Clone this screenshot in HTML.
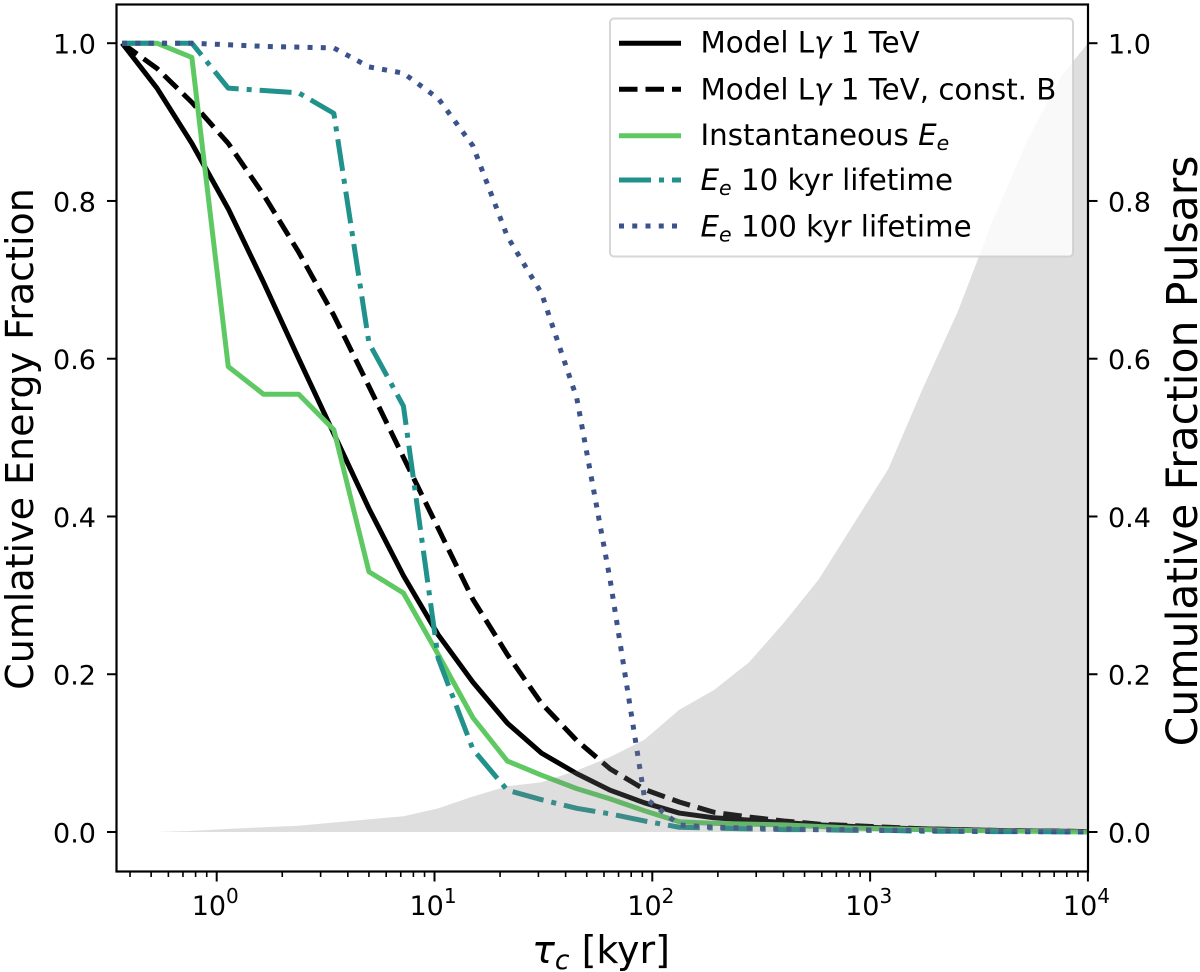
<!DOCTYPE html>
<html lang="en">
<head>
<meta charset="utf-8">
<title>Cumulative energy fraction vs characteristic age</title>
<style>
html,body{margin:0;padding:0;background:#fff;overflow:hidden;}
svg{display:block;font-family:"DejaVu Sans","Liberation Sans",sans-serif;filter:blur(0.35px);}
text{fill:#000;}
</style>
</head>
<body>
<svg id="chart" xmlns="http://www.w3.org/2000/svg" width="1200" height="972" viewBox="0 0 1200 972">
  <rect x="0" y="0" width="1200" height="972" fill="#fff"/>
  <g id="series-layer"></g>
  <g id="fill-layer"></g>
  <rect x="116.5" y="4.5" width="971.5" height="867" fill="none" stroke="#000" stroke-width="2.2"/>
  <g id="tick-layer"></g>

  <text transform="translate(33,439) rotate(-90)" text-anchor="middle" font-size="38">Cumlative Energy Fraction</text>
  <text transform="translate(1197,451) rotate(-90)" text-anchor="middle" font-size="42.5">Cumulative Fraction Pulsars</text>
  <text x="601" y="963" text-anchor="middle" font-size="38"><tspan font-style="italic">τ</tspan><tspan font-style="italic" font-size="26.5" dy="6">c</tspan><tspan dy="-6"> [kyr]</tspan></text>

  <g>
    <rect x="610" y="18.5" width="463" height="238" rx="4" ry="4" fill="#fff" fill-opacity="0.8" stroke="#ccc" stroke-opacity="0.8" stroke-width="2"/>
    <line x1="619" x2="681" y1="43.3" y2="43.3" stroke="#000" stroke-width="5"/>
    <text x="700.5" y="52.7" font-size="29.3">Model L<tspan font-style="italic">γ</tspan> 1 TeV</text>
    <line x1="619" x2="681" y1="89.3" y2="89.3" stroke="#000" stroke-width="5" stroke-dasharray="18.5 8"/>
    <text x="700.5" y="99.3" font-size="29.3">Model L<tspan font-style="italic">γ</tspan> 1 TeV, const. B</text>
    <line x1="619" x2="681" y1="135.7" y2="135.7" stroke="#5ec962" stroke-width="5"/>
    <text x="700.5" y="145" font-size="29.3">Instantaneous <tspan font-style="italic">E</tspan><tspan font-style="italic" font-size="20.5" dy="5">e</tspan></text>
    <line x1="619" x2="681" y1="180" y2="180" stroke="#21918c" stroke-width="5" stroke-dasharray="32 8 5 8"/>
    <text x="700.5" y="190" font-size="29.3"><tspan font-style="italic">E</tspan><tspan font-style="italic" font-size="20.5" dy="5">e</tspan><tspan dy="-5"> 10 kyr lifetime</tspan></text>
    <line x1="619" x2="681" y1="226" y2="226" stroke="#3b528b" stroke-width="5" stroke-dasharray="5 8.25"/>
    <text x="700.5" y="236.7" font-size="29.3"><tspan font-style="italic">E</tspan><tspan font-style="italic" font-size="20.5" dy="5">e</tspan><tspan dy="-5"> 100 kyr lifetime</tspan></text>
  </g>
</svg>
<script>
const tauKyr = [0.368,0.532,0.769,1.13,1.64,2.38,3.45,5,7.2,10.4,15,21.6,31,45,64,92,133,192,278,401,580,838,1211,1750,2529,3654,5280,7630,10000];
const modelValues = [1,0.943,0.873,0.79,0.697,0.6,0.505,0.41,0.325,0.25,0.19,0.138,0.1,0.074,0.053,0.037,0.024,0.018,0.015,0.012,0.009,0.007,0.005,0.004,0.003,0.002,0.0015,0.001,0.0005];
const constBValues = [1,0.968,0.925,0.873,0.808,0.735,0.655,0.565,0.475,0.385,0.295,0.225,0.163,0.116,0.08,0.054,0.038,0.025,0.019,0.014,0.01,0.008,0.006,0.004,0.003,0.002,0.0015,0.001,0.0005];
const instantValues = [1,1,0.982,0.59,0.555,0.555,0.51,0.33,0.303,0.225,0.145,0.09,0.072,0.055,0.042,0.027,0.013,0.011,0.01,0.009,0.007,0.005,0.004,0.003,0.002,0.0015,0.001,0.0005,0];
const tenKyrValues = [1,1,1,0.943,0.94,0.937,0.911,0.62,0.54,0.22,0.105,0.053,0.041,0.03,0.023,0.014,0.006,0.005,0.004,0.003,0.003,0.002,0.002,0.001,0.001,0.0005,0.0005,0.0002,0];
const hundredKyrValues = [1,1,1,0.998,0.996,0.995,0.994,0.97,0.962,0.93,0.87,0.755,0.683,0.55,0.32,0.044,0.009,0.006,0.005,0.004,0.003,0.003,0.002,0.002,0.001,0.001,0.0005,0.0002,0];
const pulsarFraction = [0,0,0.0015,0.004,0.006,0.008,0.012,0.016,0.02,0.03,0.045,0.058,0.063,0.078,0.095,0.117,0.155,0.18,0.215,0.265,0.32,0.39,0.46,0.563,0.66,0.775,0.877,0.96,1];
const yTickValues = [0,0.2,0.4,0.6,0.8,1];
const yTickLabels = ['0.0','0.2','0.4','0.6','0.8','1.0'];
const xTickExponents = [0,1,2,3,4];
const xMinorDecades = [-1,0,1,2,3];
const xMinorFactors = [2,3,4,5,6,7,8,9];

const NS = 'http://www.w3.org/2000/svg';
const X_DECADE0 = 216.7, X_PER_DECADE = 217.8, Y_ZERO = 832, Y_SPAN = 788.8;
const PLOT_LEFT = 116.5, PLOT_RIGHT = 1088, PLOT_BOTTOM = 871.5;

function xScale(v){ return X_DECADE0 + X_PER_DECADE * Math.log10(v); }
function yScale(v){ return Y_ZERO - Y_SPAN * v; }
function linePath(values){
  return values.map(function(v,i){
    return (i ? 'L' : 'M') + xScale(tauKyr[i]).toFixed(2) + ' ' + yScale(v).toFixed(2);
  }).join(' ');
}
function makeEl(tag, attrs, parent){
  const el = document.createElementNS(NS, tag);
  Object.keys(attrs).forEach(function(k){ el.setAttribute(k, attrs[k]); });
  parent.appendChild(el);
  return el;
}

const seriesLayer = document.getElementById('series-layer');
const fillLayer = document.getElementById('fill-layer');
const tickLayer = document.getElementById('tick-layer');

const lineModel = makeEl('path', {d: linePath(modelValues), fill:'none', stroke:'#000', 'stroke-width':5, 'stroke-linejoin':'round'}, seriesLayer);


const lineConstB = makeEl('path', {d: linePath(constBValues), fill:'none', stroke:'#000', 'stroke-width':5, 'stroke-linejoin':'round', 'stroke-dasharray':'18.5 8'}, seriesLayer);


const lineInstant = makeEl('path', {d: linePath(instantValues), fill:'none', stroke:'#5ec962', 'stroke-width':5, 'stroke-linejoin':'round'}, seriesLayer);


const lineTen = makeEl('path', {d: linePath(tenKyrValues), fill:'none', stroke:'#21918c', 'stroke-width':5, 'stroke-linejoin':'round', 'stroke-dasharray':'32 8 5 8'}, seriesLayer);


const lineHundred = makeEl('path', {d: linePath(hundredKyrValues), fill:'none', stroke:'#3b528b', 'stroke-width':5, 'stroke-linejoin':'round', 'stroke-dasharray':'5 8.25'}, seriesLayer);



const fillD = linePath(pulsarFraction) + ' L' + xScale(tauKyr[tauKyr.length-1]).toFixed(2) + ' ' + yScale(0) + ' L' + xScale(tauKyr[0]).toFixed(2) + ' ' + yScale(0) + ' Z';
const pulsarFill = makeEl('path', {d: fillD, fill:'#808080', 'fill-opacity':0.26, stroke:'none'}, fillLayer);



yTickValues.forEach(function(v,i){
  const y = yScale(v);
  const leftTick = makeEl('line', {x1:PLOT_LEFT-9.5, x2:PLOT_LEFT, y1:y, y2:y, stroke:'#000', 'stroke-width':2}, tickLayer);
  
  
  const rightTick = makeEl('line', {x1:PLOT_RIGHT, x2:PLOT_RIGHT+9.5, y1:y, y2:y, stroke:'#000', 'stroke-width':2}, tickLayer);
  
  
  const leftLabel = makeEl('text', {x:96, y:y+10.5, 'text-anchor':'end', 'font-size':27}, tickLayer);
  leftLabel.textContent = yTickLabels[i];
  
  
  const rightLabel = makeEl('text', {x:1108, y:y+10.5, 'font-size':27}, tickLayer);
  rightLabel.textContent = yTickLabels[i];
  
  
});

xTickExponents.forEach(function(e){
  const x = X_DECADE0 + X_PER_DECADE * e;
  const tick = makeEl('line', {x1:x, x2:x, y1:PLOT_BOTTOM, y2:PLOT_BOTTOM+10, stroke:'#000', 'stroke-width':2}, tickLayer);
  
  
  const label = makeEl('text', {x:x-25, y:915, 'font-size':27}, tickLayer);
  
  
  const base = makeEl('tspan', {}, label);
  base.textContent = '10';
  const sup = makeEl('tspan', {dy:-12, 'font-size':20}, label);
  sup.textContent = String(e);
});

xMinorDecades.forEach(function(d){
  xMinorFactors.forEach(function(f){
    const v = f * Math.pow(10, d);
    const x = xScale(v);
    if (x < PLOT_LEFT || x > PLOT_RIGHT) return;
    const minor = makeEl('line', {x1:x, x2:x, y1:PLOT_BOTTOM, y2:PLOT_BOTTOM+5.5, stroke:'#000', 'stroke-width':1.6}, tickLayer);
    
    
  });
});
</script>
</body>
</html>
